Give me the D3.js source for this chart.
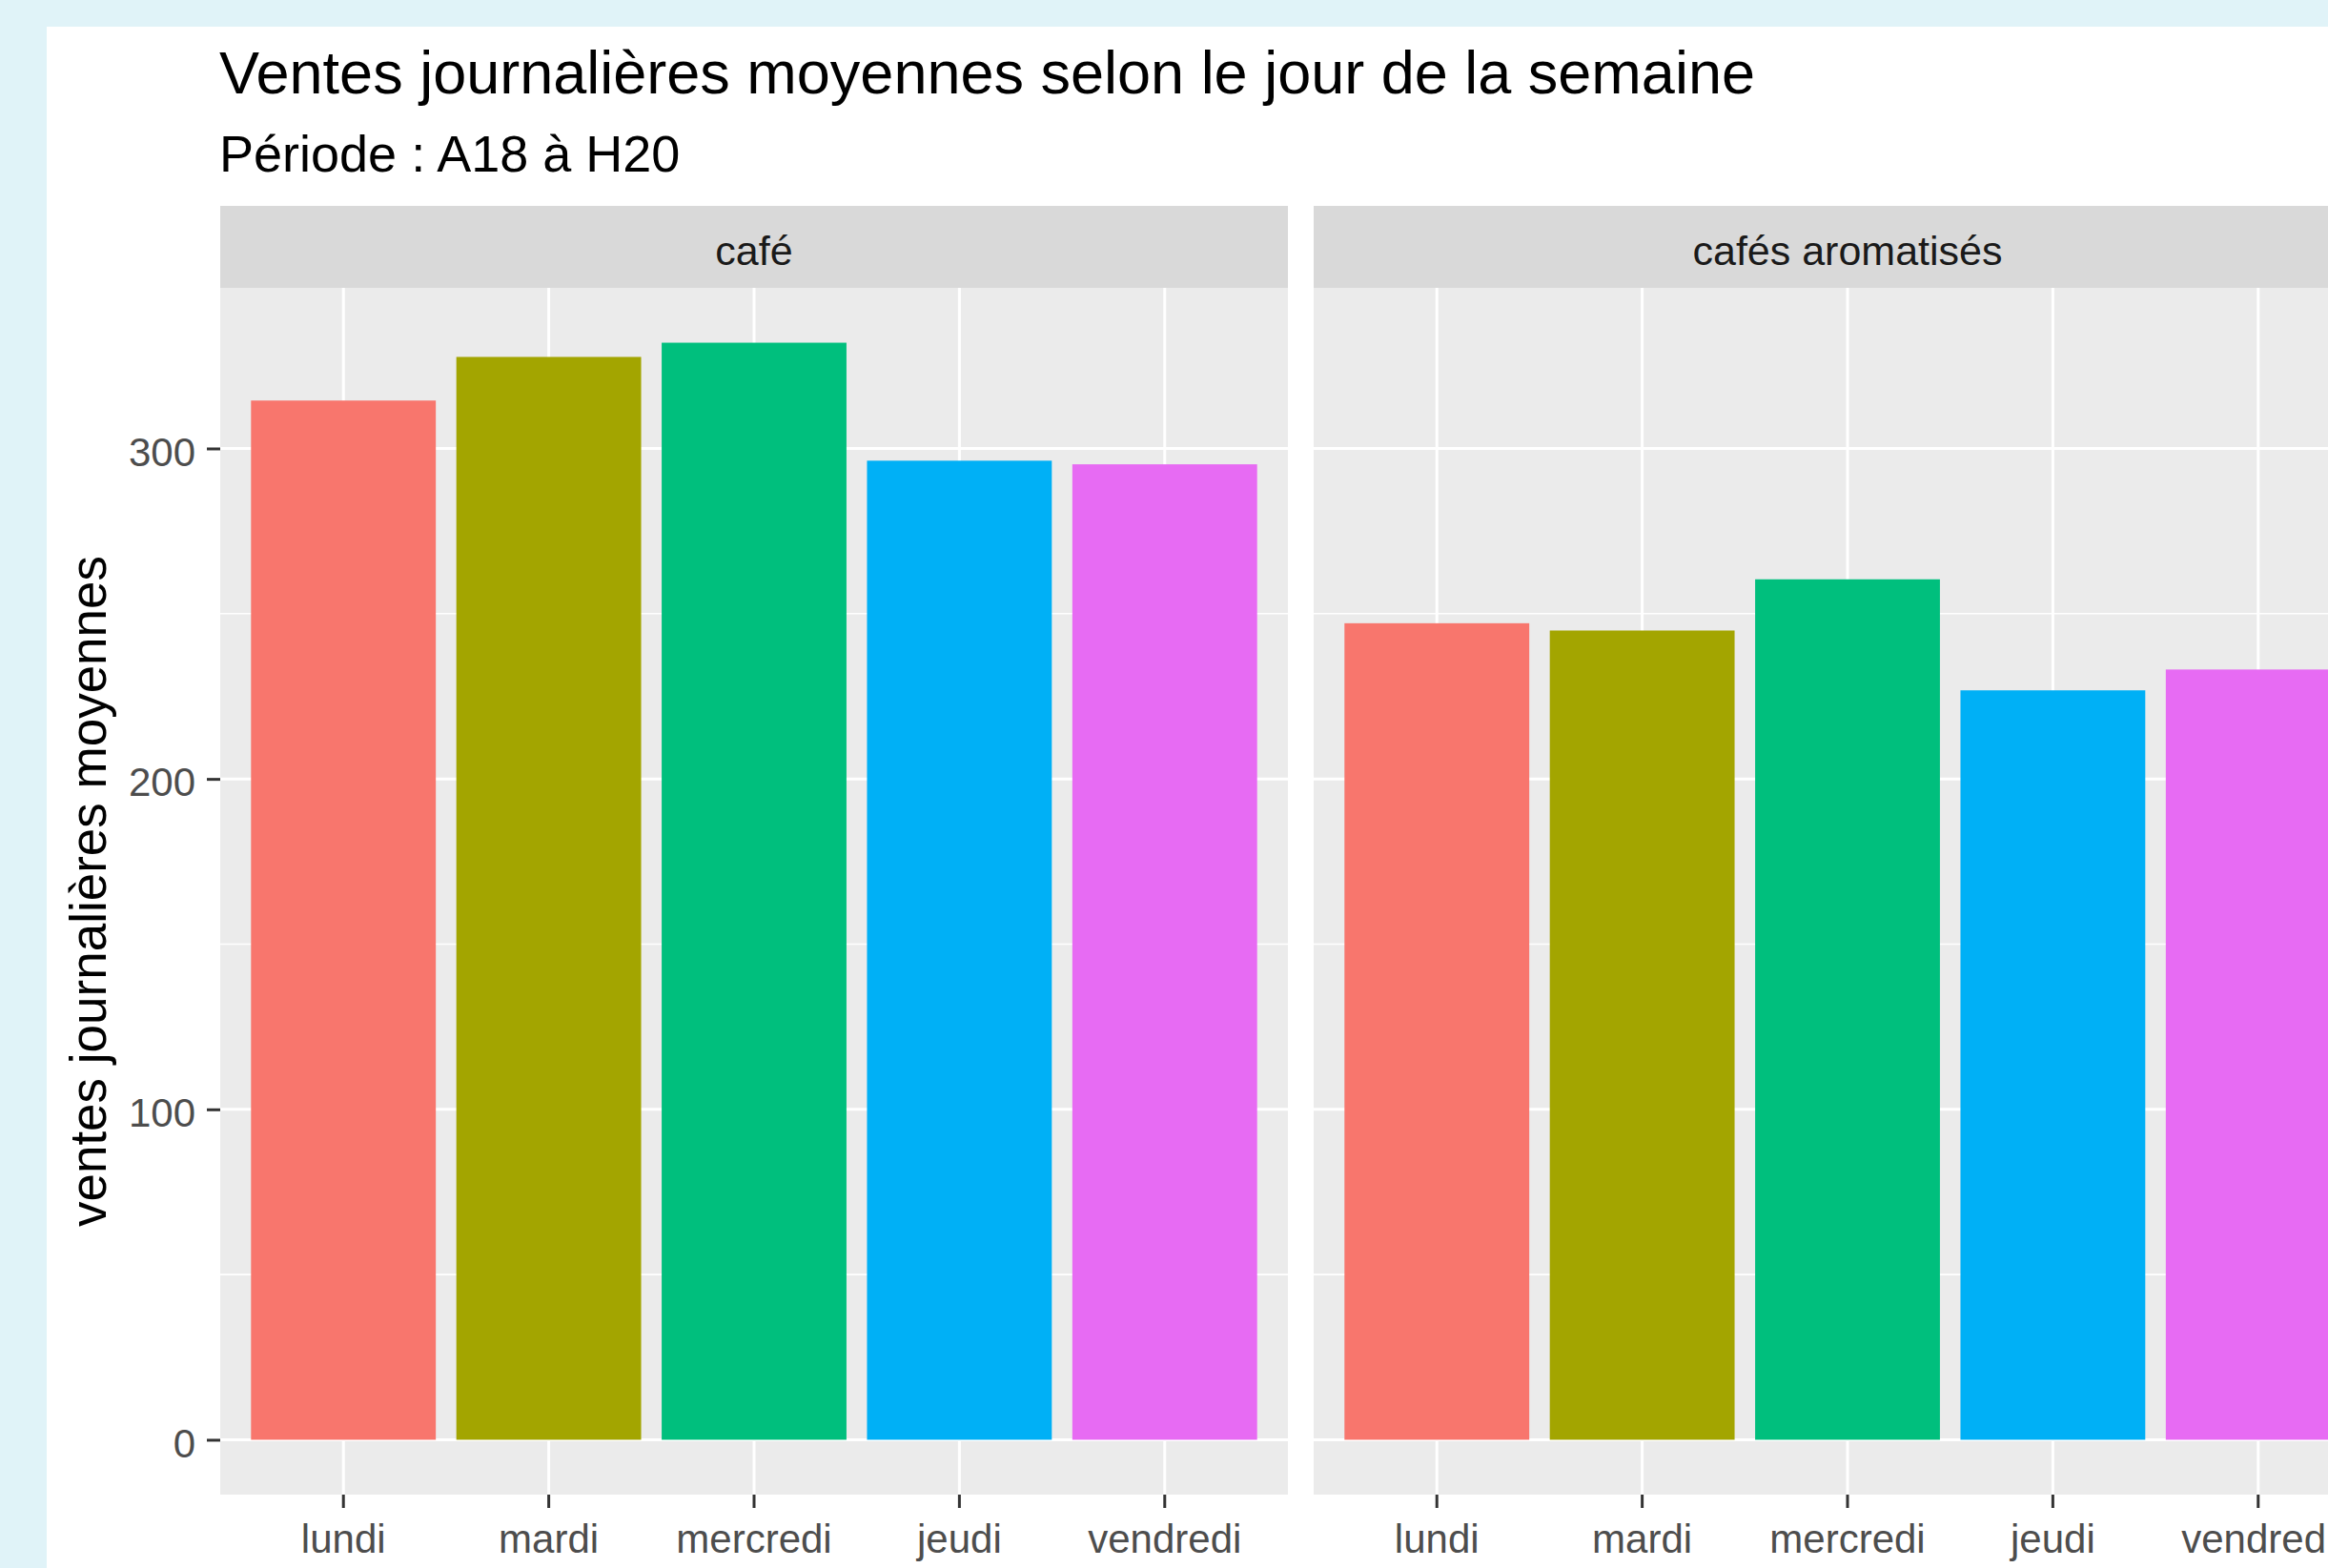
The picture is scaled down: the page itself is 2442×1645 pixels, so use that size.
<!DOCTYPE html>
<html>
<head>
<meta charset="utf-8">
<script src="https://cdn.jsdelivr.net/npm/d3@7"></script>
<style>
body { margin: 0; background: #E0F3F8; overflow: hidden; }
text { font-family: "Liberation Sans", Arial, sans-serif; }
</style>
</head>
<body>
<div id="chart"></div>
<script>
// Data
var days = ["lundi", "mardi", "mercredi", "jeudi", "vendredi"];
var products = ["café", "cafés aromatisés"];
var cafeValues = [314.5, 327.7, 332.0, 296.3, 295.2];
var aromaValues = [247.1, 244.9, 260.4, 226.8, 233.1];
var dayColors = ["#F8766D", "#A3A500", "#00BF7D", "#00B0F6", "#E76BF3"];
var yTicks = [0, 100, 200, 300];
var yMinorTicks = [50, 150, 250];

var svgWidth = 2442;
var svgHeight = 1645;

var panelWidth = 1120;
var panelSpacing = 27;
var plotLeft = 231;
var plotTop = 302;
var plotBottom = 1568;
var stripHeight = 86;

var svg = d3
.select("#chart")
.append("svg")
.attr("width", svgWidth)
.attr("height", svgHeight);

// light blue page and the white card
svg.append("rect")
    .attr("width", svgWidth)
    .attr("height", svgHeight)
    .attr("fill", "#E0F3F8");

svg.append("rect")
    .attr("x", 49)
    .attr("y", 28)
    .attr("width", svgWidth - 49)
    .attr("height", svgHeight - 28)
    .attr("fill", "#FFFFFF");

// y scale shared by both panels (ggplot 5% expansion)
var yMax = d3.max(cafeValues.concat(aromaValues));
var yLinearScale = d3
.scaleLinear()
.domain([-0.05 * yMax, 1.05 * yMax])
.range([plotBottom, plotTop]);

// x band scale, same layout in each panel
var xBandScale = d3
.scaleBand()
.domain(days)
.range([0, panelWidth])
.paddingInner(0.1)
.paddingOuter(0.15);

var panelData = [cafeValues, aromaValues];

panelData.forEach(function(values, i) {
    var px = plotLeft + i * (panelWidth + panelSpacing);
    var panel = svg.append("g")
        .attr("transform", `translate(${px}, 0)`);

    // strip
    panel.append("rect")
        .attr("x", 0)
        .attr("y", plotTop - stripHeight)
        .attr("width", panelWidth)
        .attr("height", stripHeight)
        .attr("fill", "#D9D9D9");

    panel.append("text")
        .attr("x", panelWidth / 2)
        .attr("y", plotTop - stripHeight / 2)
        .attr("dy", "0.45em")
        .attr("text-anchor", "middle")
        .attr("font-size", 43)
        .attr("fill", "#1A1A1A")
        .text(products[i]);

    // panel background
    panel.append("rect")
        .attr("x", 0)
        .attr("y", plotTop)
        .attr("width", panelWidth)
        .attr("height", plotBottom - plotTop)
        .attr("fill", "#EBEBEB");

    // minor grid
    panel.append("g")
        .selectAll("line")
        .data(yMinorTicks)
        .enter()
        .append("line")
        .attr("x1", 0)
        .attr("x2", panelWidth)
        .attr("y1", d => yLinearScale(d))
        .attr("y2", d => yLinearScale(d))
        .attr("stroke", "#FFFFFF")
        .attr("stroke-width", 1.6);

    // major grid
    panel.append("g")
        .selectAll("line")
        .data(yTicks)
        .enter()
        .append("line")
        .attr("x1", 0)
        .attr("x2", panelWidth)
        .attr("y1", d => yLinearScale(d))
        .attr("y2", d => yLinearScale(d))
        .attr("stroke", "#FFFFFF")
        .attr("stroke-width", 3);

    panel.append("g")
        .selectAll("line")
        .data(days)
        .enter()
        .append("line")
        .attr("x1", d => xBandScale(d) + xBandScale.bandwidth() / 2)
        .attr("x2", d => xBandScale(d) + xBandScale.bandwidth() / 2)
        .attr("y1", plotTop)
        .attr("y2", plotBottom)
        .attr("stroke", "#FFFFFF")
        .attr("stroke-width", 3);

    // bars
    panel.append("g")
        .selectAll("rect")
        .data(values)
        .enter()
        .append("rect")
        .attr("x", (d, j) => xBandScale(days[j]))
        .attr("width", xBandScale.bandwidth())
        .attr("y", d => yLinearScale(d))
        .attr("height", d => yLinearScale(0) - yLinearScale(d))
        .attr("fill", (d, j) => dayColors[j]);

    // x axis
    var bottomAxis = d3.axisBottom(xBandScale)
        .tickSize(14)
        .tickPadding(17);

    var xAxis = panel.append("g")
        .attr("transform", `translate(0, ${plotBottom})`)
        .call(bottomAxis);

    xAxis.select(".domain").remove();
    xAxis.selectAll(".tick line")
        .attr("stroke", "#333333")
        .attr("stroke-width", 3);
    xAxis.selectAll(".tick text")
        .attr("font-size", 42)
        .attr("font-family", "Liberation Sans, Arial, sans-serif")
        .attr("fill", "#4D4D4D");
});

// y axis on the first panel
var leftAxis = d3.axisLeft(yLinearScale)
    .tickValues(yTicks)
    .tickSize(14)
    .tickPadding(12);

var yAxis = svg.append("g")
    .attr("transform", `translate(${plotLeft}, 0)`)
    .call(leftAxis);

yAxis.select(".domain").remove();
yAxis.selectAll(".tick line")
    .attr("stroke", "#333333")
    .attr("stroke-width", 3);
yAxis.selectAll(".tick text")
    .attr("font-size", 42)
    .attr("dy", "0.42em")
    .attr("font-family", "Liberation Sans, Arial, sans-serif")
    .attr("fill", "#4D4D4D");

// y axis title
svg.append("text")
    .attr("transform", `translate(111, ${(plotTop + plotBottom) / 2}) rotate(-90)`)
    .attr("text-anchor", "middle")
    .attr("font-size", 53)
    .attr("fill", "#000000")
    .text("ventes journalières moyennes");

// title and subtitle
svg.append("text")
    .attr("x", 230)
    .attr("y", 98)
    .attr("font-size", 63)
    .attr("fill", "#000000")
    .text("Ventes journalières moyennes selon le jour de la semaine");

svg.append("text")
    .attr("x", 230)
    .attr("y", 180)
    .attr("font-size", 54)
    .attr("fill", "#000000")
    .text("Période : A18 à H20");
</script>
</body>
</html>
